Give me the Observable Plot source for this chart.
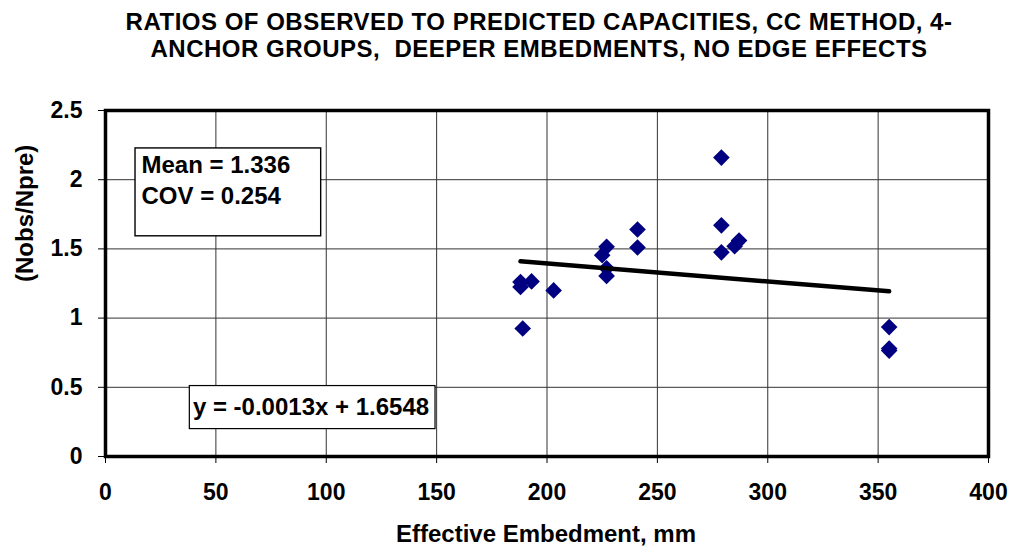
<!DOCTYPE html>
<html>
<head>
<meta charset="utf-8">
<script src="https://cdn.jsdelivr.net/npm/d3@7"></script>
<script src="https://cdn.jsdelivr.net/npm/@observablehq/plot@0.6"></script>
<style>
  html, body { margin: 0; padding: 0; background: #fff; }
  #chart svg { display: block; }
</style>
</head>
<body>
<div id="chart"></div>
<script>
// ---- data ----
const embedment = [279, 279, 279, 241, 241, 227, 225, 227, 227, 188, 188, 193, 203, 189, 287, 285, 355, 355, 355];
const ratio     = [2.16, 1.67, 1.475, 1.64, 1.51, 1.515, 1.455, 1.36, 1.305, 1.26, 1.225, 1.265, 1.20, 0.925, 1.56, 1.52, 0.935, 0.78, 0.765];
const trendSlope = -0.0013;
const trendIntercept = 1.6548;
const trendRange = [188, 355];
const xTicks = [0, 50, 100, 150, 200, 250, 300, 350, 400];
const yTicks = [0, 0.5, 1, 1.5, 2, 2.5];
const titleLines = [
  "RATIOS OF OBSERVED TO PREDICTED CAPACITIES, CC METHOD, 4-",
  "ANCHOR GROUPS,  DEEPER EMBEDMENTS, NO EDGE EFFECTS"
];
const statLines = ["Mean = 1.336", "COV = 0.254"];
const equationLabel = "y = -0.0013x + 1.6548";
const xLabel = "Effective Embedment, mm";
const yLabel = "(Nobs/Npre)";

// ---- derived tables ----
const points = embedment.map((x, i) => ({x, y: ratio[i]}));
const trend = trendRange.map(x => ({x, y: trendSlope * x + trendIntercept}));

// annotation boxes (data units)
const statBox = {x1: 13.6, x2: 97.7, y1: 1.591, y2: 2.226};
const eqBox = {x1: 38.2, x2: 149.5, y1: 0.198, y2: 0.509};

const font = "'Liberation Sans', Arial, Helvetica, sans-serif";

const chart = Plot.plot({
  width: 1012,
  height: 548,
  marginTop: 110,
  marginBottom: 92,
  marginLeft: 105,
  marginRight: 24,
  style: {fontFamily: font, fontWeight: "bold", background: "#fff", color: "#000", overflow: "visible"},
  x: {domain: [0, 400]},
  y: {domain: [0, 2.5]},
  marks: [
    Plot.gridX(xTicks, {stroke: "#333", strokeOpacity: 1, strokeWidth: 1}),
    Plot.gridY(yTicks, {stroke: "#333", strokeOpacity: 1, strokeWidth: 1}),
    Plot.axisX({ticks: xTicks, tickSize: 7, tickPadding: 20, fontSize: 23, label: null, stroke: "#000", tickFormat: d => String(d)}),
    Plot.axisY({ticks: yTicks, tickSize: 7, tickPadding: 16, fontSize: 23, label: null, stroke: "#000", tickFormat: d => String(d)}),
    Plot.rect([statBox], {x1: "x1", x2: "x2", y1: "y1", y2: "y2", fill: "#fff", stroke: "#000", strokeWidth: 1.4}),
    Plot.rect([eqBox], {x1: "x1", x2: "x2", y1: "y1", y2: "y2", fill: "#fff", stroke: "#000", strokeWidth: 1.2}),
    Plot.text([statLines[0]], {x: 16.3, y: 2.046, text: d => d, textAnchor: "start", lineAnchor: "bottom", fontSize: 24, fill: "#000"}),
    Plot.text([statLines[1]], {x: 16.3, y: 1.826, text: d => d, textAnchor: "start", lineAnchor: "bottom", fontSize: 24, fill: "#000"}),
    Plot.text([equationLabel], {x: 39.6, y: 0.299, text: d => d, textAnchor: "start", lineAnchor: "bottom", fontSize: 24, fill: "#000"}),
    Plot.dot(points, {x: "x", y: "y", symbol: "diamond2", r: 7.5, fill: "#000080", stroke: "none"}),
    Plot.line(trend, {x: "x", y: "y", stroke: "#000", strokeWidth: 4.5, strokeLinecap: "round"}),
    Plot.frame({stroke: "#000", strokeWidth: 3.5}),
    Plot.text([titleLines[0]], {frameAnchor: "top", text: d => d, dx: -8, dy: -80.7, lineAnchor: "bottom", fontSize: 24, fill: "#000"}),
    Plot.text([titleLines[1]], {frameAnchor: "top", text: d => d, dx: -8, dy: -53.3, lineAnchor: "bottom", fontSize: 24, fill: "#000"}),
    Plot.text([xLabel], {frameAnchor: "bottom", text: d => d, dx: -1, dy: 85.5, lineAnchor: "bottom", fontSize: 24, fill: "#000"}),
    Plot.text([yLabel], {frameAnchor: "left", text: d => d, dx: -80, dy: -1.5, rotate: -90, lineAnchor: "middle", fontSize: 24, fill: "#000"})
  ]
});

// title: keep the double space and widen slightly like the original
d3.select(chart).selectAll("text")
  .filter(function() { return titleLines.includes(this.textContent); })
  .style("white-space", "pre")
  .style("letter-spacing", "0.5px");

document.getElementById("chart").appendChild(chart);
</script>
</body>
</html>
